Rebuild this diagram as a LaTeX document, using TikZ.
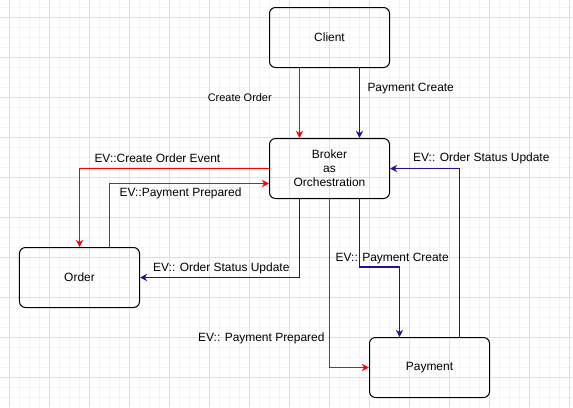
\documentclass[tikz,border=0pt]{standalone}
\usepackage{fontspec}
\setmainfont{Liberation Sans}
\usetikzlibrary{positioning,arrows.meta}
\definecolor{evred}{HTML}{FF0000}
\definecolor{evblue}{HTML}{20109F}
\definecolor{gridminor}{HTML}{F4F4F4}
\definecolor{gridmajor}{HTML}{DFDFDF}

\begin{document}
\begin{tikzpicture}[x=1bp,y=-1bp,
    service/.style={draw, rounded corners=6bp, line width=1bp,
        minimum width=120bp, minimum height=60bp, align=center,
        font=\fontsize{12}{14}\selectfont},
    red event/.style={draw=evred, line width=1.3bp, -{Stealth[length=7bp,width=7bp,inset=2bp]}},
    blue event/.style={draw=evblue, line width=1.3bp, -{Stealth[length=7bp,width=7bp,inset=2bp]}},
    event text/.style={anchor=west, inner sep=0pt, font=\fontsize{12}{14}\selectfont}
]
    \useasboundingbox (0,0) rectangle (573,407);

    % background grid
    \foreach \x in {9.5,19.5,...,569.5}
        \draw[gridminor, line width=1bp] (\x,0) -- (\x,407);
    \foreach \y in {7.5,17.5,...,397.5}
        \draw[gridminor, line width=1bp] (0,\y) -- (573,\y);
    \foreach \x in {9.5,49.5,...,569.5}
        \draw[gridmajor, line width=1bp] (\x,0) -- (\x,407);
    \foreach \y in {17.5,57.5,...,377.5}
        \draw[gridmajor, line width=1bp] (0,\y) -- (573,\y);

    \node[service] (client) at (329.5,37.5) {Client};
    \node[service, below=70bp of client] (broker) {Broker\\as\\Orchestration};
    \node[service] (order) at (79.5,277.5) {Order};
    \node[service] (payment) at (429.5,367.5) {Payment};

    % client to broker
    \draw[red event] ([xshift=-30bp]client.south) -- ([xshift=-30bp]broker.north);
    \draw[blue event] ([xshift=30bp]client.south) -- ([xshift=30bp]broker.north);
    \node[event text, font=\fontsize{11}{13}\selectfont] (create order) at (207.6,97.5) {Create Order};
    \node[event text] (payment create) at (367.3,89) {Payment Create};

    % broker and order
    \coordinate (prepared in) at ([yshift=-15bp]broker.west);
    \draw[red event] (broker.west) -| (order.north);
    \draw[blue event] ([xshift=-30bp]broker.south) |- (order.east);
    \draw[red event] ([xshift=30bp]order.north) |- (prepared in);
    \node[event text] (create order event) at (94.3,158.5) {EV::Create Order Event};
    \node[event text] (payment prepared 1) at (119.5,193.5) {EV::Payment Prepared};
    \node[event text] (order status 1) at (153,268.5) {EV:: Order Status Update};

    % broker and payment
    \draw[blue event] ([xshift=30bp]payment.north) |- (broker.east);
    \draw[red event] (broker.south) |- (payment.west);
    \draw[blue event] ([xshift=30bp]broker.south) |- ([xshift=-30bp,yshift=70bp]payment.north)
        -- ([xshift=-30bp]payment.north);
    \node[event text] (order status 2) at (413,158.5) {EV:: Order Status Update};
    \node[event text] (payment prepared 2) at (198,338.5) {EV:: Payment Prepared};
    \node[event text] (payment create 2) at (335.5,259) {EV:: Payment Create};
\end{tikzpicture}
\end{document}
